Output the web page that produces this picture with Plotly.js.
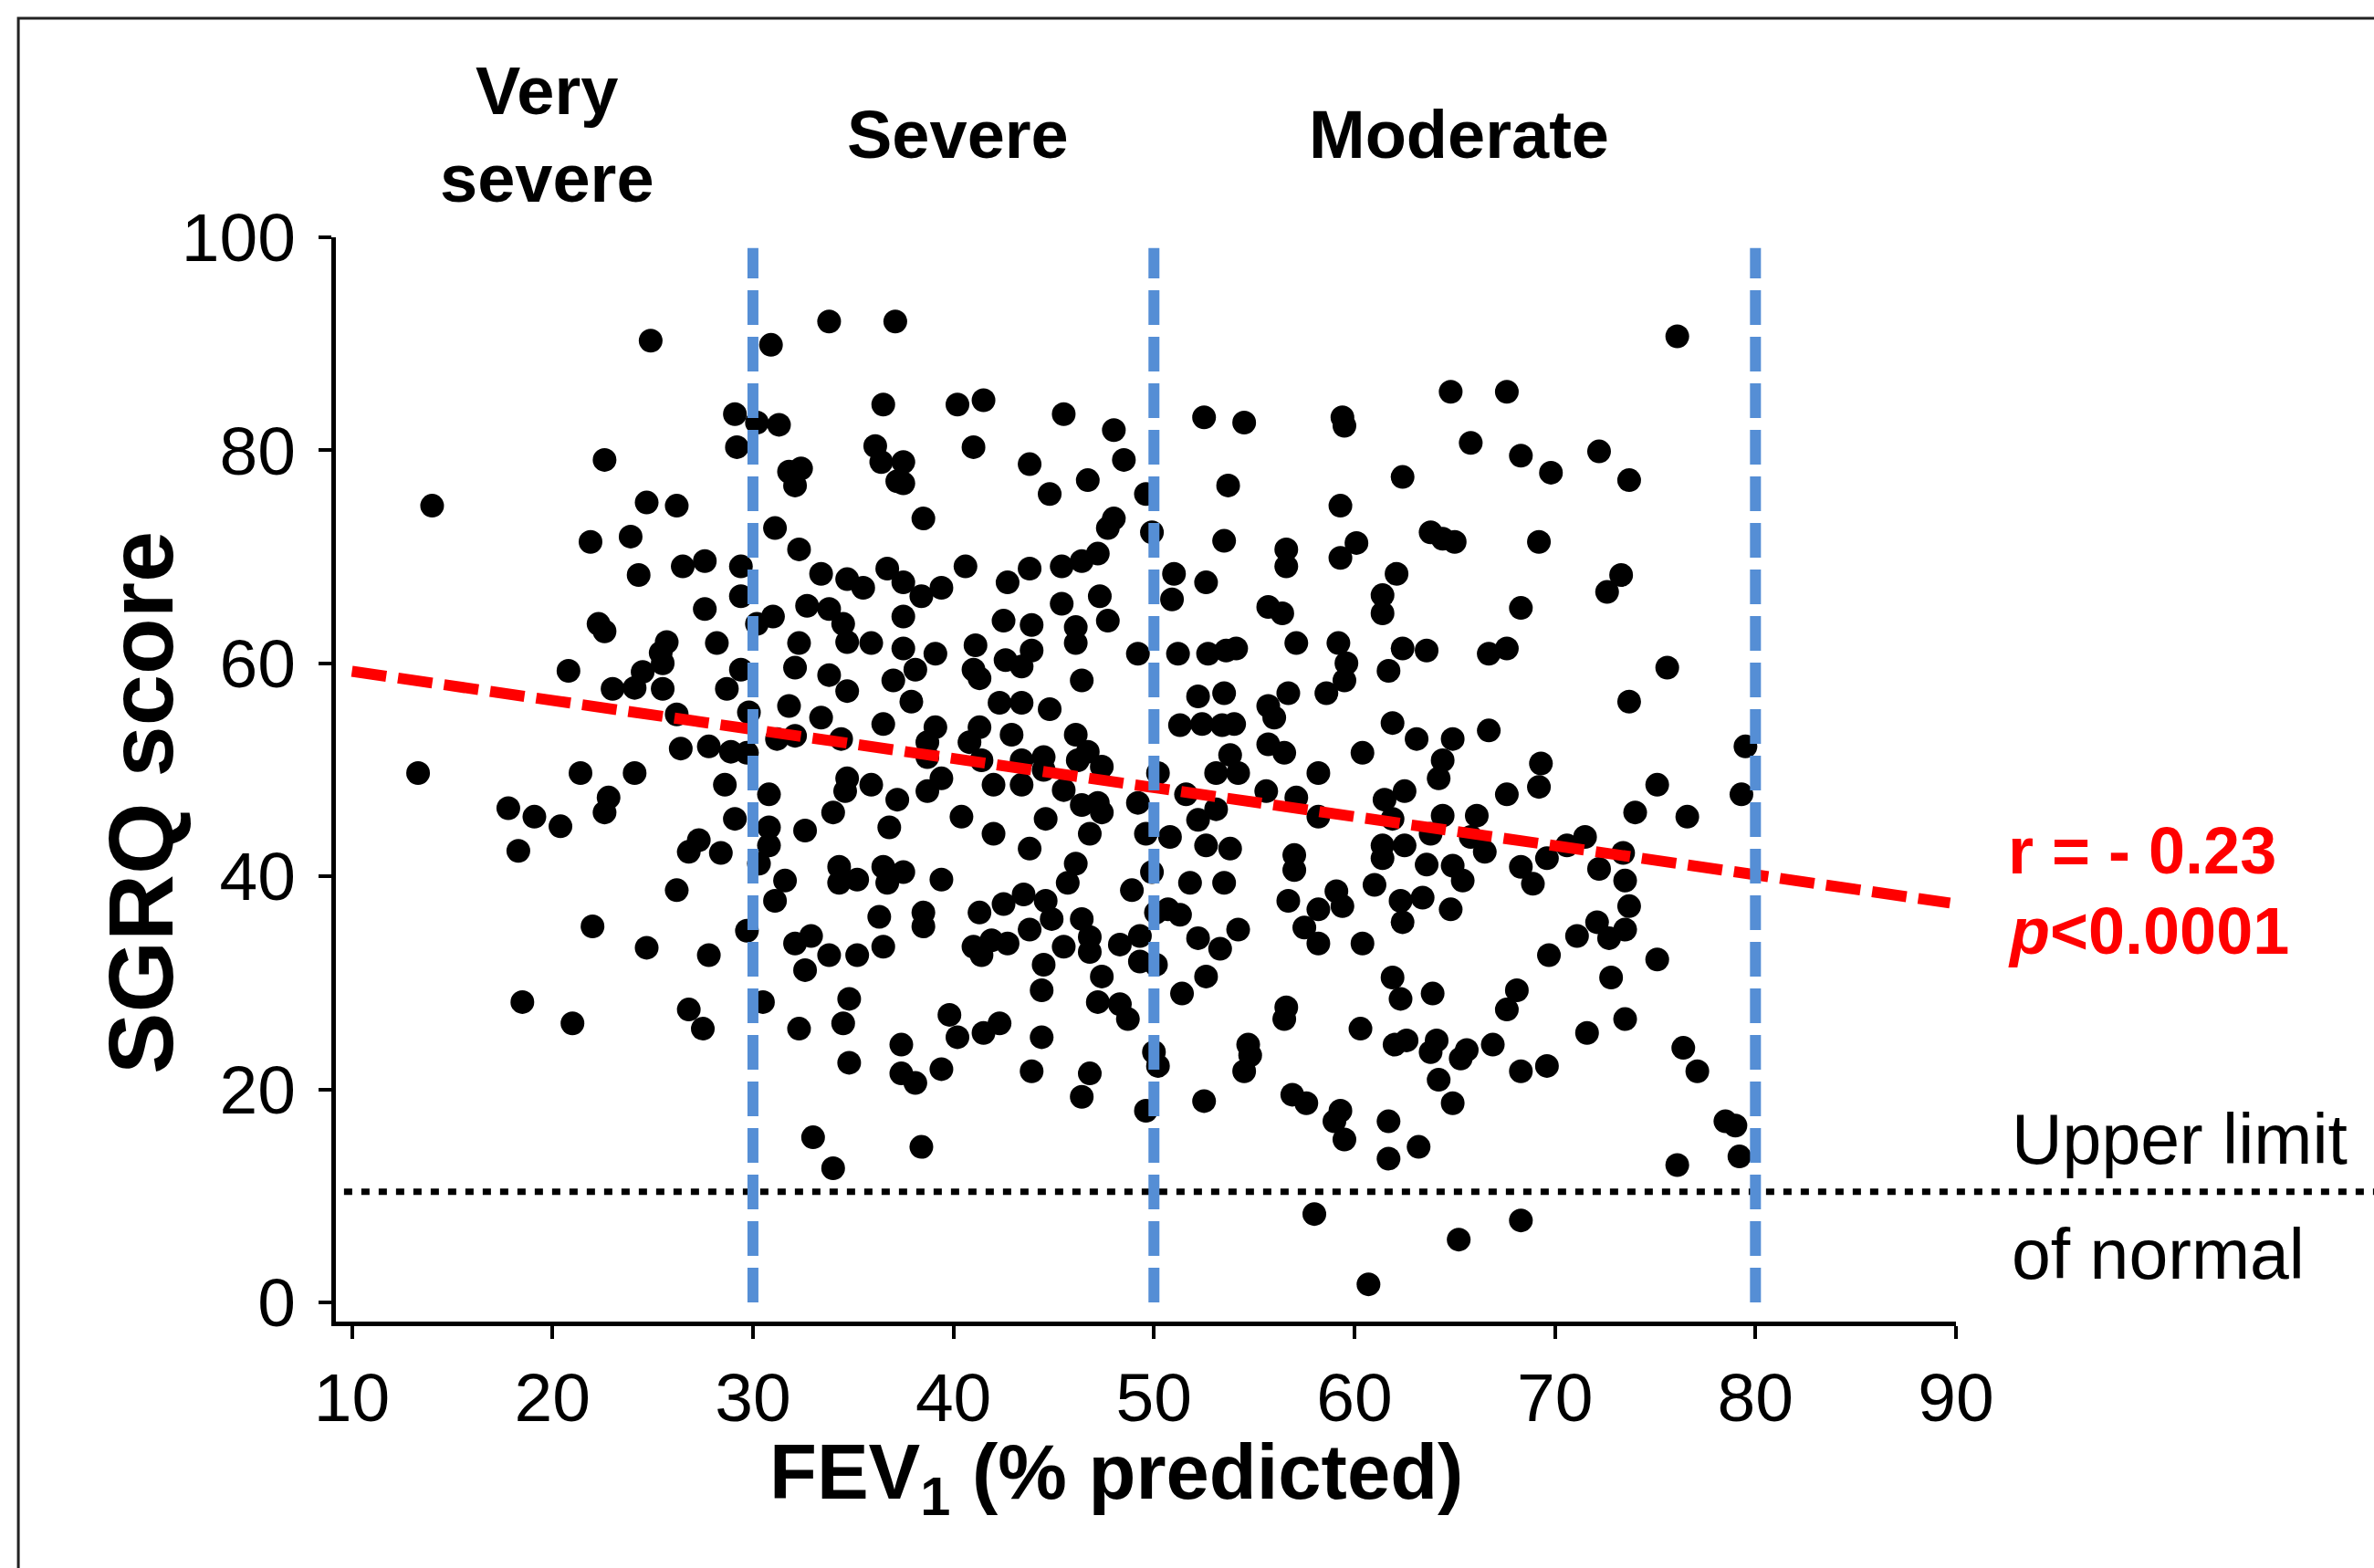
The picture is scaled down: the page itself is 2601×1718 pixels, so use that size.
<!DOCTYPE html>
<html>
<head>
<meta charset="utf-8">
<script src="https://cdn.plot.ly/plotly-3.0.1.min.js"></script>
<style>html,body{margin:0;padding:0;background:#fff;}#chart{width:2601px;height:1718px;}</style>
</head>
<body>
<div id="chart"></div>
<script>
// FEV1 (% predicted) and SGRQ score for each patient
const fev1 = [
24.9,22.6,14.0,24.7,26.2,21.9,23.9,24.3,26.5,27.6,27.6,22.3,22.6,
25.7,25.4,25.5,24.5,24.1,23.0,25.5,20.8,26.2,26.4,13.3,21.4,24.1,17.8,19.1,20.4,18.3,22.6,22.8,26.8,27.3,26.2,22.0,24.7,27.8,27.8,
18.5,21.0,26.8,27.5,
33.8,37.1,30.9,29.1,30.2,31.3,29.2,36.5,40.2,41.5,45.5,36.1,36.4,37.5,37.2,37.5,41.0,43.8,44.8,31.8,32.4,32.1,38.5,31.1,32.3,29.4,33.4,34.7,35.5,36.7,37.5,38.4,39.4,40.6,42.7,43.8,45.4,29.4,45.4,32.7,33.8,34.5,31.0,30.2,37.5,42.5,43.9,
48.0,48.5,46.7,49.6,48.0,47.7,49.9,47.2,46.4,52.5,54.5,53.7,59.4,59.5,62.4,59.3,53.5,56.6,56.6,60.1,59.3,62.1,61.4,61.4,51.0,50.9,52.6,55.7,56.4,47.3,47.7,46.1,
76.1,64.8,67.6,65.8,68.3,69.8,72.2,73.7,63.8,64.4,65.0,69.2,73.3,72.6,68.3,
28.2,32.3,34.7,35.9,37.5,39.1,41.1,43.9,29.4,28.7,32.1,33.8,34.7,37.0,38.1,41.0,41.3,42.6,43.4,37.9,42.3,43.4,44.8,31.8,29.8,33.4,36.5,39.1,41.3,42.9,31.2,32.1,34.4,38.7,40.8,28.9,29.7,38.7,41.4,43.4,44.5,44.5,43.4,42.0,45.5,28.6,30.8,34.7,35.9,34.6,37.2,38.7,39.4,34.0,36.8,29.1,30.8,30.8,32.6,40.4,42.0,44.6,43.8,28.4,30.3,31.6,31.1,34.3,34.3,35.2,36.5,36.7,37.5,39.4,38.5,38.5,36.3,41.3,42.5,43.5,44.6,44.9,45.7,43.8,41.0,41.9,42.7,41.4,45.5,44.5,29.7,32.1,32.9,33.8,35.2,36.5,32.6,
46.1,49.2,51.2,52.7,53.6,54.1,57.1,59.2,62.4,59.6,61.7,46.4,52.2,53.5,56.7,55.7,56.0,58.6,59.5,61.9,63.1,51.3,52.4,53.4,54.0,46.1,46.7,46.2,47.4,50.2,55.7,56.5,53.8,53.1,54.2,58.2,60.4,46.4,47.2,47.4,49.2,51.6,53.1,52.2,55.6,57.1,58.2,61.5,62.5,61.9,46.8,49.6,50.8,52.6,53.8,57.0,57.0,61.4,62.5,61.4,63.6,46.1,49.9,48.9,51.8,53.5,56.7,58.2,59.1,59.4,61.0,62.3,62.4,50.7,51.3,50.1,46.4,46.8,46.8,48.3,49.3,49.3,52.2,53.3,54.2,57.5,58.2,60.4,50.1,47.4,52.6,61.9,
63.6,66.7,67.6,75.6,73.7,64.9,66.7,64.4,64.2,69.3,69.2,67.6,75.1,79.5,79.3,74.0,76.6,64.4,66.1,63.8,65.8,66.5,71.5,70.6,69.6,73.4,64.9,65.4,68.3,68.9,72.2,73.5,63.4,64.8,73.7,72.1,71.1,72.7,73.5,69.7,75.1,72.8,
63.9,68.1,67.6,71.6,73.5,64.1,63.8,65.6,65.3,66.9,68.3,69.6,64.2,64.9,76.4,77.1,78.5,79.0,79.2,76.1,63.2,68.3,65.2,
47.2,48.3,48.7,51.4,56.6,56.5,62.3,60.3,62.0,62.6,54.7,54.8,54.5,50.0,50.2,46.8,46.4,49.6,52.5,56.9,57.6,59.3,59.0,59.5,61.7,61.7,58.0,60.7,
30.5,32.3,34.8,34.5,34.8,37.4,37.4,38.1,39.4,39.8,40.2,41.5,42.3,44.4,44.4,43.9,33.0,34.0,38.4
];
const sgrq = [
90.3,79.1,74.8,75.1,74.8,71.4,71.9,68.3,69.1,69.6,65.1,63.7,63.0,
62.0,61.0,60.0,59.2,57.7,57.6,57.6,59.3,55.2,52.0,49.7,49.7,49.7,46.4,45.6,44.7,42.4,46.0,47.4,42.3,43.4,38.7,35.3,33.3,52.2,32.6,
28.2,26.2,27.5,25.7,
92.1,92.1,89.9,83.4,82.6,82.4,80.3,84.3,84.3,84.7,83.4,80.4,78.9,78.9,77.1,76.9,80.3,78.7,75.9,78.0,78.3,76.7,73.6,72.7,70.7,69.1,68.4,67.9,67.1,68.9,67.6,66.3,67.1,69.1,67.6,68.9,69.1,66.3,65.6,65.4,65.1,63.7,64.4,63.7,64.4,64.0,63.6,
81.9,79.1,77.2,75.9,73.6,72.7,72.3,70.3,69.6,83.1,82.6,76.7,83.1,82.3,77.5,74.8,71.5,70.7,69.1,71.3,69.9,68.4,66.4,64.7,68.4,66.0,67.6,65.3,64.7,66.3,64.0,63.4,
90.7,85.5,85.5,80.7,79.5,77.9,79.9,77.2,72.3,71.7,71.4,71.4,68.3,66.7,65.2,
61.9,61.9,62.0,61.9,61.4,60.9,61.7,61.2,59.4,57.6,59.6,58.9,57.4,58.4,59.4,59.4,58.6,60.3,59.7,56.4,56.3,56.3,55.7,56.0,55.4,54.9,54.3,54.0,54.0,53.3,52.9,53.2,52.9,52.6,52.6,51.7,51.6,51.2,50.9,50.9,51.2,50.0,48.6,48.6,48.1,48.6,47.7,49.2,48.6,48.0,47.2,48.0,49.2,46.0,44.6,45.4,44.6,42.9,44.3,45.6,44.0,45.4,42.6,42.2,41.2,39.6,37.7,40.9,39.4,39.7,40.9,39.4,40.4,39.7,36.6,35.3,36.2,36.6,37.4,38.3,37.7,36.0,39.4,35.0,33.4,34.0,33.7,32.6,33.4,31.7,34.9,33.7,34.4,32.6,32.6,33.4,31.2,
61.9,60.9,60.9,60.9,61.2,61.4,61.9,61.9,61.4,60.0,59.3,58.4,56.9,57.2,57.2,56.0,54.9,57.2,58.4,54.4,52.9,54.2,54.3,54.2,54.3,53.3,51.7,50.9,50.3,49.7,52.4,51.6,51.4,49.7,49.7,49.7,51.6,46.7,46.9,46.0,46.9,47.7,46.3,45.3,48.0,47.4,45.6,47.2,48.0,45.4,44.0,44.0,43.7,42.9,42.6,42.0,40.6,42.9,42.9,41.7,41.1,41.2,40.4,38.7,39.4,39.4,37.7,36.9,38.6,37.2,39.2,37.7,35.7,36.9,36.4,36.6,36.0,34.3,32.9,33.6,34.4,32.0,34.2,33.2,35.0,35.2,33.7,33.7,31.7,30.6,30.6,30.5,
61.2,60.9,61.4,59.6,56.4,52.9,53.7,50.9,49.2,50.6,48.4,47.7,48.6,52.2,47.7,46.0,45.6,45.7,45.7,44.0,43.7,42.3,43.7,42.9,41.7,42.2,41.0,39.6,40.9,39.3,40.7,39.6,38.0,36.9,37.2,35.7,34.4,34.2,35.0,32.6,32.2,30.5,
29.0,29.3,27.5,25.3,26.6,24.6,23.5,23.7,22.9,24.2,21.7,22.2,20.9,18.7,23.9,21.7,17.0,16.6,13.7,12.9,14.6,7.7,5.9,
28.2,28.0,26.6,29.0,27.7,26.6,28.5,25.7,24.2,24.6,24.2,23.2,21.7,23.5,22.2,21.5,19.3,18.0,18.9,19.5,18.7,18.0,17.0,15.3,17.0,13.5,8.3,1.7,
28.2,25.7,28.5,26.2,22.5,24.2,21.5,20.6,21.9,27.0,24.9,25.3,26.2,29.3,24.9,21.7,15.5,12.6,14.6
];

// Linear regression line end points
const fitX = [10, 89.7];
const fitY = [59.25, 37.5];

// GOLD severity cut-offs (FEV1 %)
const cutoffs = [30, 50, 80];
const severityLabels = ["Very<br>severe", "Severe", "Moderate"];

// Upper limit of normal SGRQ
const sgrqULN = 10.4;

const xTicks = [10, 20, 30, 40, 50, 60, 70, 80, 90];
const yTicks = [0, 20, 40, 60, 80, 100];

const xTitle = "FEV<sub>1</sub> (% predicted)";
const yTitle = "SGRQ score";

const FONT = "Liberation Sans, Arial, sans-serif";

const traces = [
  {
    type: "scatter", mode: "markers", x: fev1, y: sgrq,
    marker: {size: 26, color: "#000000", line: {width: 0}},
    hoverinfo: "x+y", showlegend: false
  },
  {
    type: "scatter", mode: "lines", x: fitX, y: fitY,
    line: {color: "#FF0000", width: 12, dash: "38px,13px"},
    showlegend: false, hoverinfo: "skip"
  }
];

const shapes = cutoffs.map(c => ({
  type: "line", xref: "x", yref: "y", x0: c, x1: c, y0: 0, y1: 99,
  line: {color: "#558ED5", width: 12, dash: "38px,13px"}, layer: "above"
}));
shapes.push({
  type: "line", xref: "paper", yref: "y", x0: 0.005, x1: 1.27, y0: sgrqULN, y1: sgrqULN,
  line: {color: "#000000", width: 7, dash: "9px,10px"}, layer: "below"
});
// outer frame (only the left and top edges fall inside the picture)
shapes.push({
  type: "rect", xref: "paper", yref: "paper", x0: -0.196, x1: 1.30, y0: -0.26, y1: 1.202,
  line: {color: "#222222", width: 3}, fillcolor: "rgba(0,0,0,0)"
});

const sevX = [0.1307, 0.3842, 0.6930];
const annotations = [];
severityLabels.forEach((t, i) => annotations.push({
  x: sevX[i], y: 1.0943, xref: "paper", yref: "paper", text: "<b>" + t + "</b>",
  showarrow: false, font: {family: FONT, size: 74, color: "#000"}, xanchor: "center", yanchor: "middle", align: "center"
}));
annotations.push({x: 1.031, y: 0.4343, xref: "paper", yref: "paper", text: "<b>r = - 0.23</b>", showarrow: false,
  font: {family: FONT, size: 72, color: "#FF0000"}, xanchor: "left", yanchor: "middle"});
annotations.push({x: 1.031, y: 0.3603, xref: "paper", yref: "paper", text: "<b><i>p</i>&lt;0.0001</b>", showarrow: false,
  font: {family: FONT, size: 72, color: "#FF0000"}, xanchor: "left", yanchor: "middle"});
annotations.push({x: 1.033, y: 0.1684, xref: "paper", yref: "paper", text: "Upper limit", showarrow: false,
  font: {family: FONT, size: 77, color: "#000"}, xanchor: "left", yanchor: "middle"});
annotations.push({x: 1.033, y: 0.0623, xref: "paper", yref: "paper", text: "of normal", showarrow: false,
  font: {family: FONT, size: 77, color: "#000"}, xanchor: "left", yanchor: "middle"});
// axis titles
annotations.push({x: 0.4817, y: -0.1440, xref: "paper", yref: "paper", text: "<b>" + xTitle + "</b>", showarrow: false,
  font: {family: FONT, size: 85, color: "#000"}, xanchor: "center", yanchor: "middle"});
annotations.push({x: -0.1206, y: 0.479, xref: "paper", yref: "paper", text: "<b>" + yTitle + "</b>", showarrow: false,
  textangle: -90, font: {family: FONT, size: 101, color: "#000"}, xanchor: "center", yanchor: "middle"});

const layout = {
  width: 2601, height: 1718,
  paper_bgcolor: "#fff", plot_bgcolor: "#fff",
  margin: {l: 368, r: 458, t: 260, b: 270},
  font: {family: FONT, color: "#000"},
  showlegend: false,
  xaxis: {
    range: [9.2, 90], tickvals: xTicks, ticktext: xTicks.map(String),
    showline: true, linecolor: "#000", linewidth: 5, mirror: false,
    ticks: "outside", ticklen: 14, tickwidth: 4, tickcolor: "#000",
    tickfont: {family: FONT, size: 75, color: "#000"},
    showgrid: false, zeroline: false
  },
  yaxis: {
    range: [-1.8, 100], tickvals: yTicks, ticktext: yTicks.map(String),
    showline: true, linecolor: "#000", linewidth: 5,
    ticks: "outside", ticklen: 14, tickwidth: 4, tickcolor: "#000",
    tickfont: {family: FONT, size: 75, color: "#000"},
    ticklabelstandoff: 10,
    showgrid: false, zeroline: false
  },
  shapes: shapes,
  annotations: annotations
};

Plotly.newPlot("chart", traces, layout, {displayModeBar: false, staticPlot: true});
</script>
</body>
</html>
